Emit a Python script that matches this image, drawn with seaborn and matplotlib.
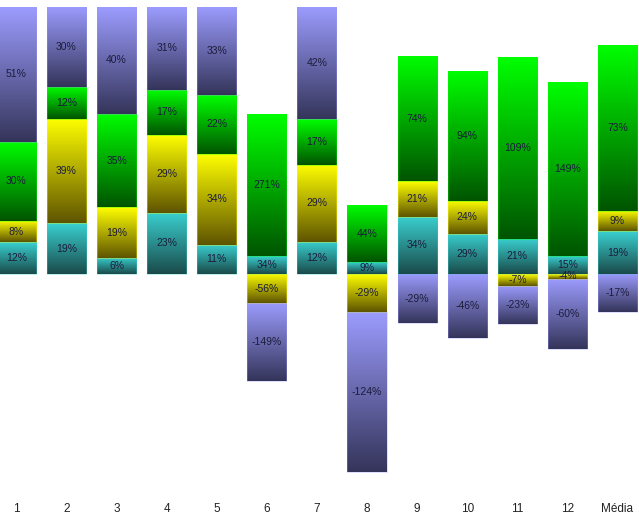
import numpy as np
import pandas as pd
import matplotlib
matplotlib.use("Agg")
import matplotlib.pyplot as plt
import seaborn as sns
from matplotlib.colors import LinearSegmentedColormap

categories = ["1", "2", "3", "4", "5", "6", "7", "8", "9", "10", "11", "12", "Média"]
teal_vals   = [12, 19, 6, 23, 11, 34, 12, 9, 34, 29, 21, 15, 19]
yellow_vals = [8, 39, 19, 29, 34, -56, 29, -29, 21, 24, -7, -4, 9]
green_vals  = [30, 12, 35, 17, 22, 271, 17, 44, 74, 94, 109, 149, 73]
purple_vals = [51, 30, 40, 31, 33, -149, 42, -124, -29, -46, -23, -60, -17]

series = [
    ("teal", teal_vals, ("#3ad0d0", "#1a4a4a")),
    ("yellow", yellow_vals, ("#ffff00", "#5e5400")),
    ("green", green_vals, ("#00ff00", "#005400")),
    ("purple", purple_vals, ("#9c9cff", "#34345a")),
]

sns.set_theme(style="white")
plt.rcParams["font.family"] = ["Liberation Sans", "DejaVu Sans"]

fig = plt.figure(figsize=(6.39, 5.32), dpi=100)
ax = fig.add_axes([0, 37 / 532, 1, 495 / 532])

vals = np.array([s[1] for s in series], dtype=float)
abs_total = np.abs(vals).sum(axis=0)
share = vals / abs_total  # 100% stacked by absolute share

pos_base = np.zeros(len(categories))
neg_base = np.zeros(len(categories))
bar_w = 0.78

for i, (name, v, (c_top, c_bot)) in enumerate(series):
    h = share[i]
    bottoms = np.where(h >= 0, pos_base, neg_base)
    df = pd.DataFrame({"cat": categories, "h": h})
    n_before = len(ax.patches)
    sns.barplot(data=df, x="cat", y="h", order=categories, bottom=bottoms,
                color=c_top, width=bar_w, ax=ax, errorbar=None,
                edgecolor=c_top, linewidth=0.4)
    patches = ax.patches[n_before:]
    cmap = LinearSegmentedColormap.from_list(name, [c_bot, c_top])
    grad = np.linspace(1, 0, 256).reshape(-1, 1)
    for j, p in enumerate(patches):
        x0, y0 = p.get_x(), p.get_y()
        w, hh = p.get_width(), p.get_height()
        ylo, yhi = min(y0, y0 + hh), max(y0, y0 + hh)
        if yhi - ylo <= 0:
            continue
        p.set_facecolor("none")
        p.set_edgecolor((*matplotlib.colors.to_rgb(c_top), 0.6))
        im = ax.imshow(grad, cmap=cmap, extent=(x0, x0 + w, ylo, yhi),
                       aspect="auto", zorder=p.get_zorder() - 0.1,
                       interpolation="bilinear", vmin=0, vmax=1)
        im.set_clip_path(p)
        ax.text(x0 + w / 2, (ylo + yhi) / 2, f"{v[j]}%", ha="center", va="center",
                fontsize=7.5, color="#1c1c3c", zorder=5)
    pos_base = pos_base + np.where(h >= 0, h, 0)
    neg_base = neg_base + np.where(h < 0, h, 0)

ax.set_xlim(-0.328, 12.43)
ax.set_ylim((274 - 495) / 267, 274 / 267)
ax.set_xlabel("")
ax.set_ylabel("")
ax.set_yticks([])
ax.tick_params(axis="x", length=0, pad=6, labelsize=8.5, colors="#222222")
for s in ax.spines.values():
    s.set_visible(False)

fig.savefig("out.png", dpi=100)
